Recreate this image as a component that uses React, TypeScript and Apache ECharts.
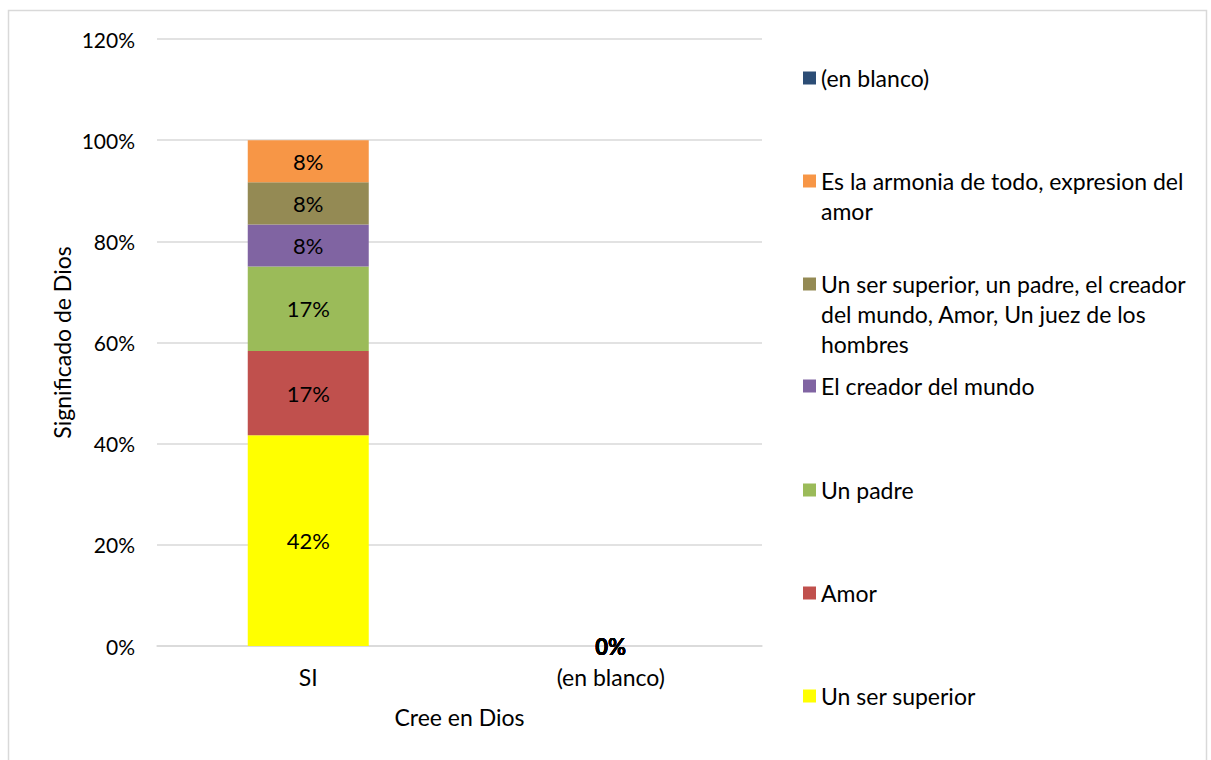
import React, { useEffect, useRef } from "react";
import * as echarts from "echarts";

const categories = ["SI", "(en blanco)"];
const seriesNames = [
  "Un ser superior",
  "Amor",
  "Un padre",
  "El creador del mundo",
  "Un ser superior, un padre, el creador del mundo, Amor, Un juez de los hombres",
  "Es la armonia de todo, expresion del amor",
  "(en blanco)",
];
const legendLabels = [
  "Un ser superior",
  "Amor",
  "Un padre",
  "El creador del mundo",
  "Un ser superior, un padre, el creador\ndel mundo, Amor, Un juez de los\nhombres",
  "Es la armonia de todo, expresion del\namor",
  "(en blanco)",
];
const seriesColors = ["#ffff00", "#c0504d", "#9bbb59", "#8064a2", "#948a54", "#f79646", "#2c4d75"];
const valUnSerSuperior = [0.4167, 0];
const valAmor = [0.1667, 0];
const valUnPadre = [0.1667, 0];
const valCreador = [0.0833, 0];
const valVarios = [0.0833, 0];
const valArmonia = [0.0833, 0];
const valEnBlanco = [null, 0];
const seriesValues = [valUnSerSuperior, valAmor, valUnPadre, valCreador, valVarios, valArmonia, valEnBlanco];
const yTicks = [0, 0.2, 0.4, 0.6, 0.8, 1.0, 1.2];
// first-line centre of each legend entry (same order as seriesNames)
const legendLineY = [695, 592, 489, 385, 283, 180, 77];

const FONT = "Lato";
const FS = 23;
const FS_NUM = 21;
const FS_LABEL = 22;
const LH = 30;

export default function App() {
  const ref = useRef<HTMLDivElement>(null);
  useEffect(() => {
    if (!ref.current) return;
    const chart = echarts.init(ref.current, undefined, { renderer: "svg" });
    const legends = seriesNames.map((name, i) => {
      const lines = legendLabels[i].split("\n").length;
      const blockH = (2 * lines - 1) * LH;
      // leading blank lines keep the first text line level with the swatch
      const text = "\n".repeat(lines - 1) + legendLabels[i];
      return {
        data: [name],
        left: 803,
        top: legendLineY[i] + 1 - blockH / 2,
        orient: "vertical",
        padding: 0,
        itemWidth: 13,
        itemHeight: 13,
        icon: "rect",
        selectedMode: false,
        formatter: () => text,
        textStyle: { fontFamily: FONT, fontSize: FS, color: "#000", lineHeight: LH },
      };
    });
    chart.setOption({
      animation: false,
      backgroundColor: "#fff",
      textStyle: { fontFamily: FONT },
      grid: { left: 157, right: 449, top: 39, bottom: 114, containLabel: false },
      legend: legends,
      graphic: [
        {
          type: "rect",
          shape: { x: 8.5, y: 10.5, width: 1198, height: 800 },
          style: { fill: "none", stroke: "#d9d9d9", lineWidth: 1.5 },
          silent: true,
        },
      ],
      xAxis: {
        type: "category",
        data: categories,
        name: "Cree en Dios",
        nameLocation: "middle",
        nameGap: 59,
        nameTextStyle: { fontFamily: FONT, fontSize: FS, color: "#000" },
        axisTick: { show: false },
        axisLine: { lineStyle: { color: "#d9d9d9", width: 1.5 } },
        axisLabel: { fontFamily: FONT, fontSize: FS, color: "#000", margin: 19 },
      },
      yAxis: {
        type: "value",
        min: yTicks[0],
        max: yTicks[yTicks.length - 1],
        interval: 0.2,
        name: "Significado de Dios",
        nameLocation: "middle",
        nameGap: 84,
        nameTextStyle: { fontFamily: FONT, fontSize: FS, color: "#000" },
        axisLine: { show: false },
        axisTick: { show: false },
        splitLine: { lineStyle: { color: "#d9d9d9", width: 1.5 } },
        axisLabel: {
          fontFamily: FONT,
          fontSize: FS_NUM,
          color: "#000",
          margin: 22,
          formatter: (v: number) => Math.round(v * 100) + "%",
        },
      },
      series: seriesNames.map((name, i) => ({
        name,
        type: "bar",
        stack: "total",
        barCategoryGap: "60%",
        data: seriesValues[i],
        itemStyle: { color: seriesColors[i] },
        label: {
          show: true,
          position: "inside",
          fontFamily: FONT,
          fontSize: FS_LABEL,
          color: "#000",
          rich: { z: { fontFamily: FONT, fontSize: FS_LABEL, fontWeight: "bold", color: "#000" } },
          formatter: (p: any) =>
            p.value == null ? "" : p.value === 0 ? "{z|0%}" : Math.round(p.value * 100) + "%",
        },
      })),
    });
    return () => chart.dispose();
  }, []);
  return (
    <div
      ref={ref}
      style={{ position: "absolute", left: 0, top: 0, width: 1211, height: 760 }}
    />
  );
}
